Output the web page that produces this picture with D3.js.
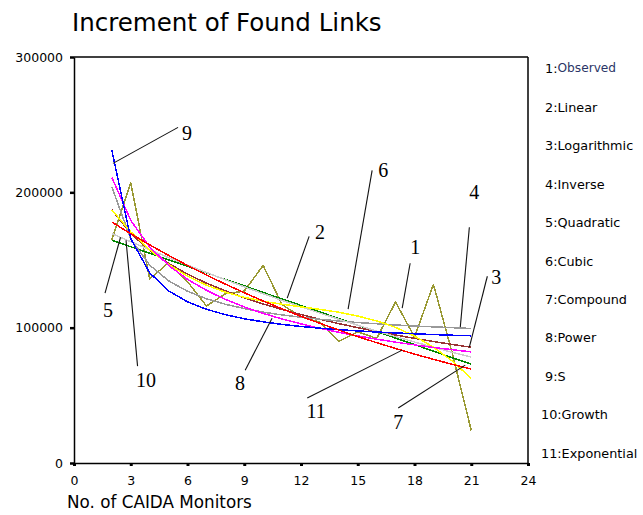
<!DOCTYPE html>
<html>
<head>
<meta charset="utf-8">
<script src="https://cdn.jsdelivr.net/npm/d3@7"></script>
<style>
  html, body { margin: 0; padding: 0; background: #fff; }
  svg { display: block; font-family: "DejaVu Sans", Verdana, sans-serif; }
</style>
</head>
<body>
<svg id="chart" width="643" height="515"></svg>
<script>
// ---------------- data ----------------
const monitors = [2, 3, 4, 5, 6, 7, 8, 9, 10, 11, 12, 13, 14, 15, 16, 17, 18, 19, 20, 21];

const observed    = [165000, 207000, 136000, 148000, 134000, 116000, 125000, 127000, 146000, 117000, 108000, 104000, 90000, 97000, 92000, 119000, 93000, 132000, 81000, 24000];
const linear      = [164600, 159800, 155000, 150100, 145300, 140500, 135700, 130900, 126000, 121200, 116400, 111600, 106700, 101900, 97100, 92300, 87500, 82600, 77800, 73000];
const logarithmic = [187100, 169500, 157100, 147500, 139600, 132900, 127200, 122100, 117500, 113400, 109700, 106200, 103000, 100000, 97200, 94600, 92100, 89800, 87600, 85500];
const inverse     = [204000, 165500, 146200, 134600, 126900, 121400, 117300, 114100, 111500, 109400, 107700, 106200, 104900, 103800, 102900, 102000, 101200, 100600, 100000, 99400];
const quadratic   = [169500, 163500, 157600, 151800, 146200, 140800, 135400, 130200, 125100, 120200, 115400, 110700, 106200, 101800, 97500, 93400, 89400, 85500, 81800, 78200];
const cubic       = [187000, 170800, 157500, 146700, 138100, 131400, 126200, 122400, 119500, 117300, 115400, 113500, 111400, 108600, 105000, 100200, 93800, 85600, 75300, 62500];
const compound    = [178000, 169400, 161200, 153400, 146000, 138900, 132200, 125800, 119700, 113900, 108400, 103200, 98200, 93400, 88900, 84600, 80500, 76600, 72900, 69400];
const power       = [211000, 179300, 159700, 146000, 135700, 127600, 120900, 115300, 110600, 106400, 102800, 99500, 96600, 93900, 91500, 89300, 87300, 85400, 83700, 82100];
const sCurve      = [231000, 165800, 140500, 127200, 119100, 113600, 109600, 106600, 104300, 102400, 100900, 99600, 98500, 97600, 96800, 96100, 95500, 94900, 94400, 94000];
const growth      = [178000, 169400, 161200, 153400, 146000, 138900, 132200, 125800, 119700, 113900, 108400, 103200, 98200, 93400, 88900, 84600, 80500, 76600, 72900, 69400];
const exponential = [178000, 169400, 161200, 153400, 146000, 138900, 132200, 125800, 119700, 113900, 108400, 103200, 98200, 93400, 88900, 84600, 80500, 76600, 72900, 69400];

const seriesNames = ["Observed", "Linear", "Logarithmic", "Inverse", "Quadratic", "Cubic", "Compound", "Power", "S", "Growth", "Exponential"];
const seriesValues = [observed, linear, logarithmic, inverse, quadratic, cubic, compound, power, sCurve, growth, exponential];
const seriesColors = ["#999933", "#008800", "#993333", "#999999", "#cccccc", "#ffff00", "#ff0000", "#ff00ff", "#0000ff", "#ff0000", "#ff0000"];

const xTicks = [0, 3, 6, 9, 12, 15, 18, 21, 24];
const yTicks = [0, 100000, 200000, 300000];

// curve labels (data units): label, text x/y, leader start x/y, leader end x/y
const curveLabels = [
  { label: "9",  tx: 5.98,  ty: 243500, x1: 5.50,  y1: 248000, x2: 2.06,  y2: 221400 },
  { label: "5",  tx: 1.80,  ty: 112900, x1: 1.64,  y1: 125500, x2: 2.46,  y2: 166800 },
  { label: "10", tx: 3.81,  ty: 61300,  x1: 3.36,  y1: 71600,  x2: 2.75,  y2: 164600 },
  { label: "8",  tx: 8.78,  ty: 59000,  x1: 9.05,  y1: 68600,  x2: 10.47, y2: 107000 },
  { label: "2",  tx: 13.01, ty: 170500, x1: 12.43, y1: 167500, x2: 11.27, y2: 121800 },
  { label: "6",  tx: 16.35, ty: 216200, x1: 15.76, y1: 216200, x2: 14.49, y2: 113700 },
  { label: "1",  tx: 18.04, ty: 159400, x1: 17.77, y1: 147600, x2: 17.35, y2: 114400 },
  { label: "4",  tx: 21.16, ty: 200000, x1: 20.90, y1: 174200, x2: 20.42, y2: 100400 },
  { label: "3",  tx: 22.32, ty: 137300, x1: 21.85, y1: 138000, x2: 20.90, y2: 85600 },
  { label: "7",  tx: 17.14, ty: 30300,  x1: 17.14, y1: 40600,  x2: 20.68, y2: 72300 },
  { label: "11", tx: 12.80, ty: 38400,  x1: 12.33, y1: 48000,  x2: 17.35, y2: 83400 }
];

// ---------------- drawing ----------------
const svg = d3.select("#chart");
const plotLeft = 74, plotRight = 528, plotTop = 57, plotBottom = 463;

const x = d3.scaleLinear().domain([0, 24]).range([plotLeft, plotRight]);
const y = d3.scaleLinear().domain([0, 300000]).range([plotBottom, plotTop]);

// Title
svg.append("text")
  .attr("x", 72).attr("y", 31)
  .style("font-family", "DejaVu Sans")
  .style("font-size", "24.5px")
  .attr("fill", "#000")
  .text("Increment of Found Links");

// Box (top & right)
svg.append("line").attr("x1", plotLeft).attr("x2", plotRight).attr("y1", plotTop).attr("y2", plotTop)
  .attr("stroke", "#000").attr("stroke-width", 1.5);
svg.append("line").attr("x1", plotRight).attr("x2", plotRight).attr("y1", plotTop).attr("y2", plotBottom)
  .attr("stroke", "#000").attr("stroke-width", 1.5);

// Axes
const yAxis = d3.axisLeft(y).tickValues(yTicks).tickFormat(d3.format("d"))
  .tickSizeInner(4).tickSizeOuter(0).tickPadding(7);
const gy = svg.append("g").attr("transform", `translate(${plotLeft},0)`).call(yAxis);
gy.selectAll("text").style("font-size", "12.5px").style("font-family", "DejaVu Sans").attr("fill", "#000");
gy.selectAll(".tick line").attr("stroke-width", 2.5);
gy.select(".domain").attr("stroke-width", 1.5);

const xAxis = d3.axisBottom(x).tickValues(xTicks).tickFormat(d3.format("d"))
  .tickSizeInner(3).tickSizeOuter(0).tickPadding(10);
const gx = svg.append("g").attr("transform", `translate(0,${plotBottom})`).call(xAxis);
gx.selectAll("text").style("font-size", "12.5px").style("font-family", "DejaVu Sans").attr("fill", "#000");
gx.selectAll(".tick line").attr("stroke-width", 3);
gx.select(".domain").attr("stroke-width", 1.5);

// X axis title
svg.append("text")
  .attr("x", 67).attr("y", 508)
  .style("font-family", "DejaVu Sans")
  .style("font-size", "16.8px")
  .attr("fill", "#000")
  .text("No. of CAIDA Monitors");

// Series lines
const line = d3.line().x((d, i) => x(monitors[i])).y(d => y(d));
const linesG = svg.append("g");
seriesValues.forEach((vals, i) => {
  linesG.append("path")
    .datum(vals)
    .attr("d", line)
    .attr("fill", "none")
    .attr("stroke", seriesColors[i])
    .attr("stroke-width", 1.5)
    .attr("stroke-linejoin", "round")
    .attr("shape-rendering", "crispEdges");
});

// Curve labels with leaders
const labG = svg.append("g");
curveLabels.forEach(c => {
  labG.append("line")
    .attr("x1", x(c.x1)).attr("y1", y(c.y1))
    .attr("x2", x(c.x2)).attr("y2", y(c.y2))
    .attr("stroke", "#111").attr("stroke-width", 1.1);
  labG.append("text")
    .attr("x", x(c.tx)).attr("y", y(c.ty))
    .attr("text-anchor", "middle")
    .attr("dominant-baseline", "central")
    .style("font-family", "'Liberation Serif', 'Times New Roman', serif")
    .style("font-size", "20px")
    .attr("fill", "#000")
    .text(c.label);
});

// Legend (text only, right side)
const legG = svg.append("g");
seriesNames.forEach((name, i) => {
  const id = i + 1;
  const t = legG.append("text")
    .attr("x", id >= 10 ? 541 : 545)
    .attr("y", 68.3 + i * 38.44)
    .attr("dominant-baseline", "central")
    .style("font-family", "DejaVu Sans")
    .style("font-size", "12.8px")
    .attr("fill", "#000");
  t.append("tspan").text(id + ":");
  const n = t.append("tspan").text(name);
  if (i === 0) n.attr("fill", "#2a3566").style("font-size", "12.2px");
});
</script>
</body>
</html>
